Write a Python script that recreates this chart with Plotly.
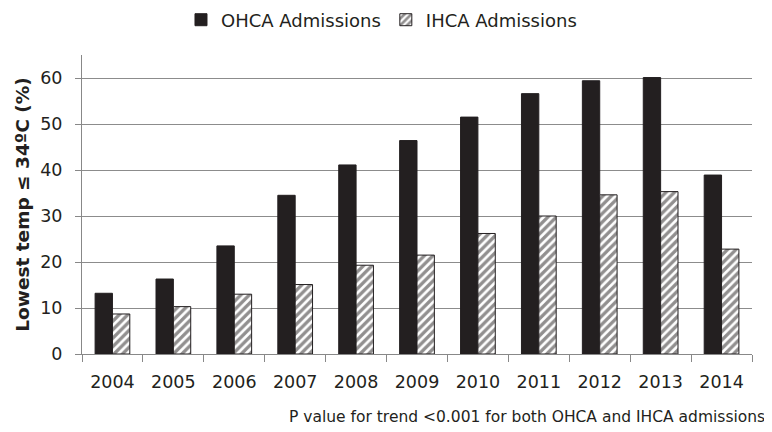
import plotly.graph_objects as go

years = ["2004", "2005", "2006", "2007", "2008", "2009", "2010", "2011", "2012", "2013", "2014"]
ohca = [13.2, 16.3, 23.5, 34.5, 41.1, 46.4, 51.5, 56.6, 59.4, 60.1, 38.9]
ihca = [8.7, 10.3, 13.0, 15.1, 19.3, 21.5, 26.2, 30.0, 34.6, 35.3, 22.8]

FONT = "DejaVu Sans"
INK = "#231f20"

fig = go.Figure()
fig.add_trace(go.Bar(
    x=years, y=ohca, name="OHCA Admissions",
    marker=dict(color=INK, line=dict(color=INK, width=1)),
))
fig.add_trace(go.Bar(
    x=years, y=ihca, name="IHCA Admissions",
    marker=dict(color="white", line=dict(color=INK, width=1),
                pattern=dict(shape="/", fgcolor=INK, bgcolor="white",
                             size=6, solidity=0.55)),
))

fig.update_layout(
    width=772, height=432,
    paper_bgcolor="white", plot_bgcolor="white",
    margin=dict(l=74, r=28, t=47, b=86, autoexpand=False),
    barmode="group", bargap=0.43, bargroupgap=0,
    font=dict(family=FONT, color=INK, size=16),
    legend=dict(orientation="h", x=0.447, xanchor="center", y=1.117, yanchor="middle",
                font=dict(size=18, family=FONT), itemwidth=30, traceorder="normal"),
    xaxis=dict(
        type="category", showgrid=False, showline=True, linecolor="#888888", linewidth=1,
        ticks="outside", tickson="boundaries", ticklen=7, tickcolor="#888888",
        tickfont=dict(size=17.5, family=FONT, color=INK), range=[-0.5, 10.5],
        ticklabelstandoff=12, automargin=False,
    ),
    yaxis=dict(
        range=[0, 65], tickvals=[0, 10, 20, 30, 40, 50, 60],
        showgrid=True, gridcolor="#8c8c8c", gridwidth=1,
        showline=True, linecolor="#888888", linewidth=1,
        ticks="outside", ticklen=6, tickcolor="#888888",
        tickfont=dict(size=17.5, family=FONT, color=INK), zeroline=False,
        ticklabelstandoff=9, automargin=False,
        title=dict(text="<b>Lowest temp ≤ 34ºC (%)</b>", font=dict(size=18.5, family=FONT, color=INK), standoff=5),
    ),
    annotations=[dict(
        text="P value for trend <0.001 for both OHCA and IHCA admissions",
        xref="paper", yref="paper", x=1.022, y=-0.21, xanchor="right", yanchor="middle",
        showarrow=False, font=dict(size=15.5, family=FONT, color=INK),
    )],
)

fig.write_html("out.html")
